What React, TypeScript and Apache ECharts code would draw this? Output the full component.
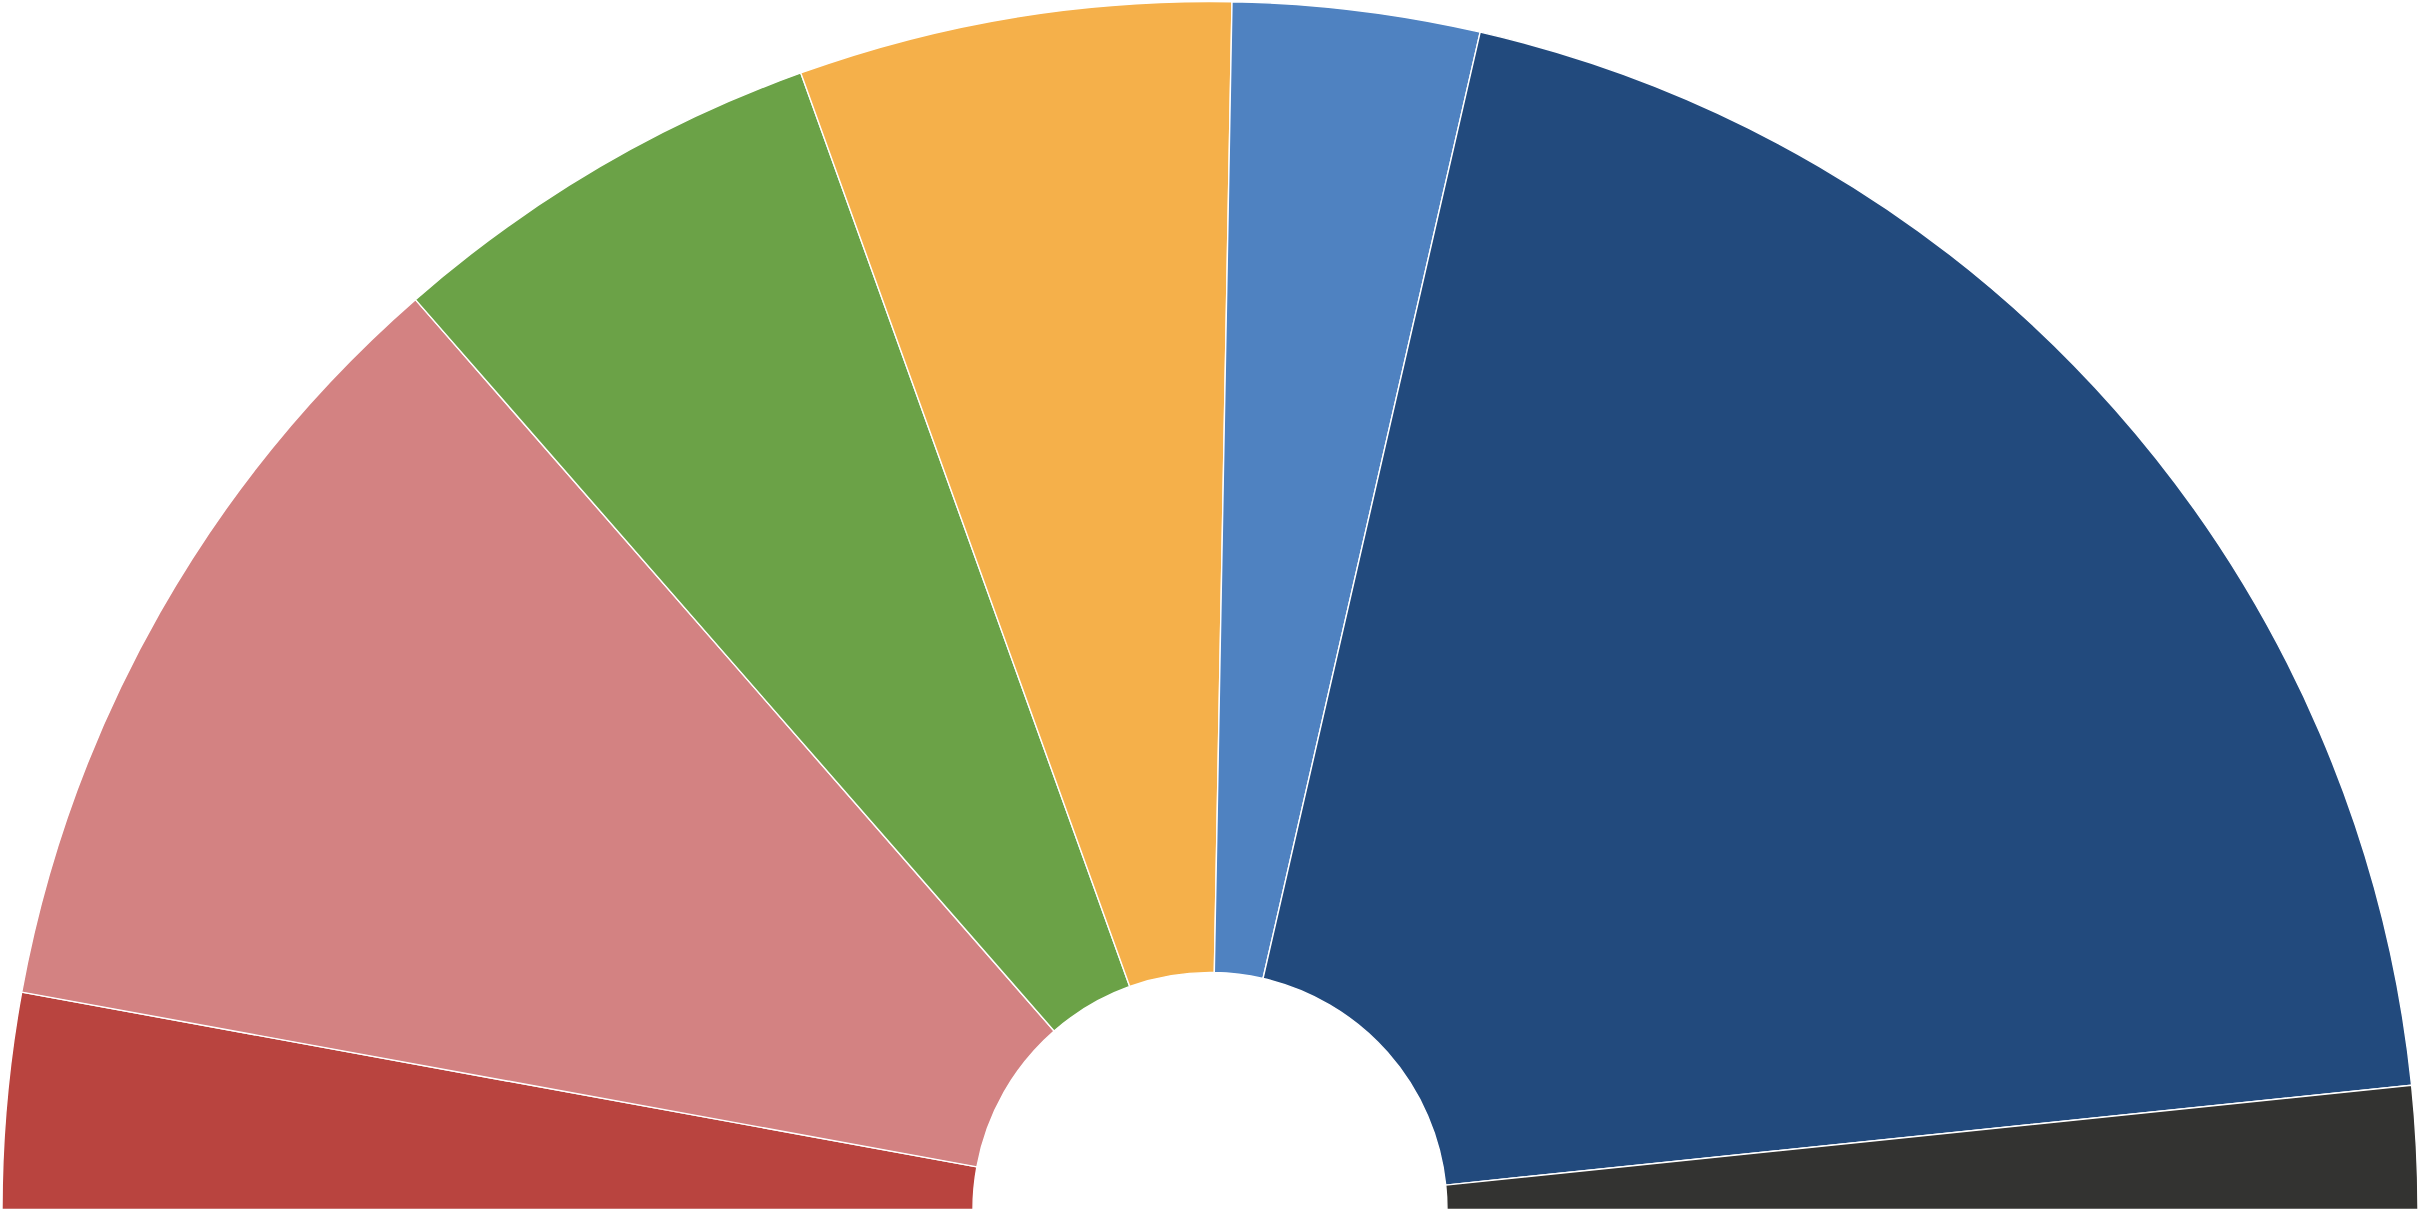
import React, { useEffect, useRef } from "react";
import * as echarts from "echarts";

const categories = ["A", "B", "C", "D", "E", "F", "G"];
const shares = [5.76, 21.39, 11.85, 11.58, 6.6, 39.54, 3.28];
const colors = ["#b9443f", "#d38282", "#6ba247", "#f5b04a", "#4f82c1", "#224a7d", "#333331"];

export default function App() {
  const ref = useRef<HTMLDivElement>(null);
  useEffect(() => {
    if (!ref.current) return;
    const chart = echarts.init(ref.current, undefined, { renderer: "svg" });
    chart.setOption({
      animation: false,
      backgroundColor: "#ffffff",
      series: [
        {
          type: "pie",
          center: [1210, 1209.5],
          radius: [237, 1208],
          startAngle: 180,
          endAngle: 360,
          clockwise: true,
          silent: true,
          label: { show: false },
          labelLine: { show: false },
          itemStyle: { borderColor: "#ffffff", borderWidth: 1.4 },
          data: categories.map((name, i) => ({
            name,
            value: shares[i],
            itemStyle: { color: colors[i] },
          })),
        },
      ],
    });
    return () => chart.dispose();
  }, []);
  return (
    <div
      ref={ref}
      style={{ position: "absolute", left: 0, top: 0, width: 2422, height: 1212 }}
    />
  );
}
